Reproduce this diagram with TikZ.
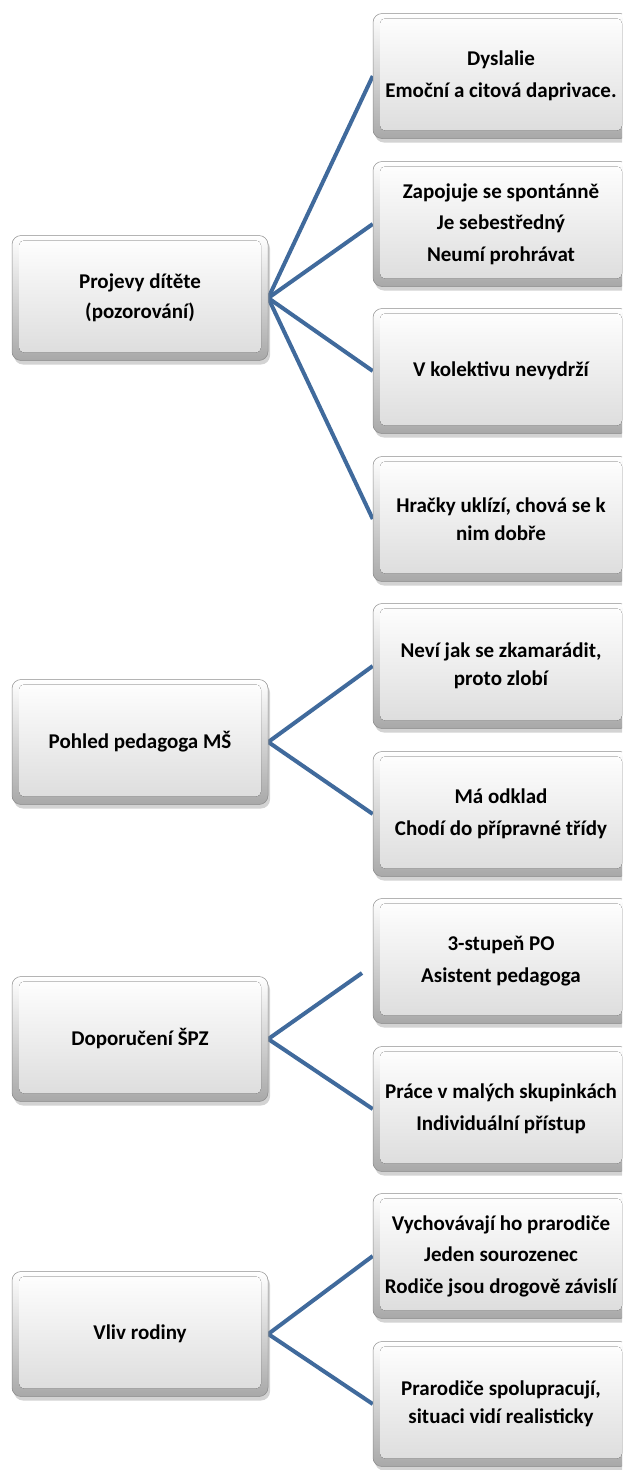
\documentclass[tikz,border=0pt]{standalone}
\usepackage{fontspec}
\setmainfont{Carlito}
\usetikzlibrary{shadows,backgrounds}
\definecolor{conblue}{RGB}{64,106,156}
\tikzset{
  tbox/.style={rounded corners=9pt, minimum width=256pt, minimum height=125pt,
    top color=white, bottom color=black!34, draw=black!45, line width=0.5pt,
    drop shadow={shadow xshift=2pt, shadow yshift=-4pt, opacity=0.35},
    align=center, font=\fontsize{21}{27.5}\selectfont\bfseries, text=black,
    path picture={\fill[top color=white, bottom color=black!14, rounded corners=5pt]
      ([shift={(7pt,-5pt)}]path picture bounding box.north west) rectangle
      ([shift={(-7pt,8pt)}]path picture bounding box.south east);}},
  rbox/.style={tbox, text width=242pt, align=center},
  con/.style={draw=conblue, line width=4pt}
}
\begin{document}
\begin{tikzpicture}[x=1pt,y=-1pt]
\useasboundingbox (0,0) rectangle (622,1470);
\clip (0,0) rectangle (622,1470);
% left boxes
\node[tbox] (L1) at (140,298) {Projevy dítěte\\[2pt](pozorování)};
\node[tbox] (L2) at (140,742) {Pohled pedagoga MŠ};
\node[tbox] (L3) at (140,1039) {Doporučení ŠPZ};
\node[tbox] (L4) at (140,1334) {Vliv rodiny};
% right boxes
\node[tbox] (R1) at (501,76) {Dyslalie\\[4pt]Emoční a citová daprivace.};
\node[tbox] (R2) at (501,224) {Zapojuje se spontánně\\[4pt]Je sebestředný\\[4pt]Neumí prohrávat};
\node[tbox] (R3) at (501,371) {V kolektivu nevydrží};
\node[tbox] (R4) at (501,519) {Hračky uklízí, chová se k\\nim dobře};
\node[tbox] (R5) at (501,666) {Neví jak se zkamarádit,\\proto zlobí};
\node[tbox] (R6) at (501,814) {Má odklad\\[4pt]Chodí do přípravné třídy};
\node[tbox] (R7) at (501,961) {3-stupeň PO\\[4pt]Asistent pedagoga};
\node[tbox] (R8) at (501,1109) {Práce v malých skupinkách\\[4pt]Individuální přístup};
\node[tbox] (R9) at (501,1256) {Vychovávají ho prarodiče\\[4pt]Jeden sourozenec\\[4pt]Rodiče jsou drogově závislí};
\node[tbox] (R10) at (501,1404) {Prarodiče spolupracují,\\situaci vidí realisticky};
\coordinate (R7end) at (362,973);
\begin{scope}[on background layer]
\draw[con] (L1.east) -- (R1.west);
\draw[con] (L1.east) -- (R2.west);
\draw[con] (L1.east) -- (R3.west);
\draw[con] (L1.east) -- (R4.west);
\draw[con] (L2.east) -- (R5.west);
\draw[con] (L2.east) -- (R6.west);
\draw[con] (L3.east) -- (R7end);
\draw[con] (L3.east) -- (R8.west);
\draw[con] (L4.east) -- (R9.west);
\draw[con] (L4.east) -- (R10.west);
\end{scope}
\end{tikzpicture}
\end{document}
